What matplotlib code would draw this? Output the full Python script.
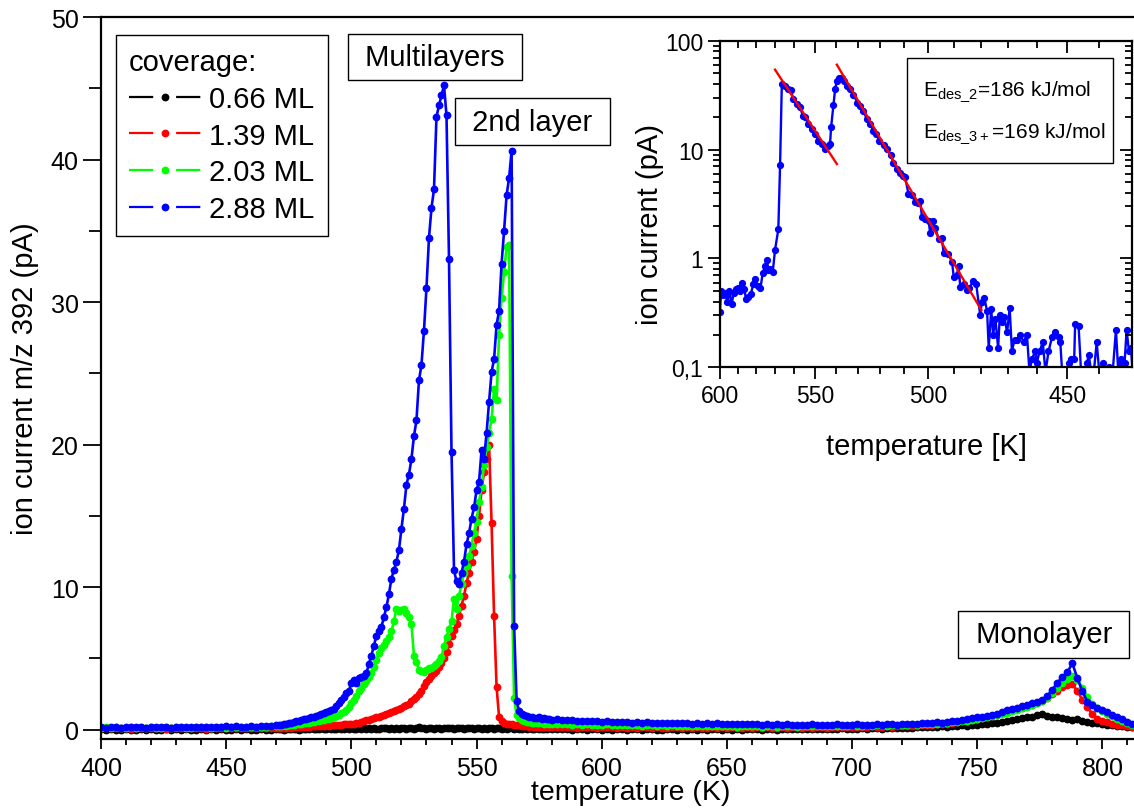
import numpy as np
import matplotlib.pyplot as plt
from matplotlib.lines import Line2D
from matplotlib.legend_handler import HandlerTuple
from matplotlib.patches import Rectangle
from matplotlib.ticker import MultipleLocator, NullFormatter

plt.rcParams['font.family'] = ['Liberation Sans', 'DejaVu Sans']
plt.rcParams['mathtext.default'] = 'regular'

# temperature ramp: 2 K steps on the flat parts, 1 K steps across the multilayer / 2nd layer peaks
temp = np.concatenate([np.arange(400, 471, 2), np.arange(471, 581, 1), np.arange(582, 813, 2)])

# ion current m/z 392 (pA) for each coverage
ion_066 = [
    .02, -.03, .05, .00, -.02, .04, -.04, .01, .06, -.01,
    .03, -.02, .00, .05, -.03, .02, -.01, .04, -.04, .01,
    .05, -.02, .02, -.03, .04, .00, -.01, .06, -.02, .03,
    .00, -.03, .04, .01, -.02, .05,
    .03, .06, .01, .05, .08, .02, .04, .07, .00, .05,
    .08, .03, .06, .10, .04, .07, .02, .09, .05, .06,
    .10, .04, .08, .05, .11, .06, .03, .09, .07, .12,
    .05, .08, .11, .06, .09, .04, .10, .07, .12, .08,
    .06, .11, .09, .13, .07, .10, .05, .12, .08, .11,
    .14, .07, .10, .13, .08, .11, .16, .09, .12, .07,
    .10, .14, .08, .12, .11, .06, .13, .09, .12, .10,
    .07, .12, .10, .14, .08, .11, .09, .13, .07, .10,
    .12, .08, .11, .06, .10, .13, .07, .09, .12, .08,
    .10, .06, .09, .12, .07, .10, .05, .08, .11, .06,
    .09, .04, .07, .10, .05, .08, .03, .06, .09, .04,
    .05, .02, .06, -.01, .03, .04, .00, .05, .02, -.02,
    .04, .01, .05, .02, -.01, .03, .06, .00, .02, .04,
    .01, -.02, .03, .05, .00, .02, -.01, .04, .01, .03,
    .00, .04, .02, -.01, .05, .01, .03, .00, .04, .02,
    .03, .01, .05, .02, .00, .04, .06, .02, .03, .05,
    .04, .07, .03, .05, .08, .04, .06, .09, .05, .08,
    .07, .10, .06, .09, .12, .08, .11, .14, .10, .13,
    .15, .12, .17, .20, .16, .22, .19, .25, .22, .28,
    .26, .31, .28, .35, .33, .40, .38, .45, .48, .55,
    .60, .66, .75, .85, .92, .88, 1.05, 1.12, .95, .88,
    .92, .80, .75, .68, .72, .60, .55, .48, .44, .38,
    .34, .30, .27, .24, .22, .20,
]

ion_139 = [
    .12, .10, .14, .09, .11, .13, .08, .12, .10, .14,
    .09, .12, .11, .08, .13, .10, .12, .09, .11, .13,
    .10, .08, .12, .11, .09, .13, .10, .12, .11, .09,
    .12, .10, .13, .11, .12, .14,
    .13, .12, .15, .14, .16, .15, .18, .17, .19, .20,
    .19, .22, .21, .24, .23, .26, .25, .28, .27, .30,
    .29, .31, .32, .34, .33, .36, .38, .37, .40, .41,
    .42, .46, .50, .55, .60, .65, .70, .75, .80, .86,
    .90, .98, 1.05, 1.12, 1.18, 1.24, 1.30, 1.36, 1.45, 1.55,
    1.65, 1.72, 1.83, 2.00, 2.15, 2.30, 2.50, 2.75, 3.05, 3.35,
    3.55, 3.80, 3.95, 4.10, 4.40, 4.70, 5.05, 5.46, 6.00, 6.60,
    7.00, 7.40, 8.00, 8.70, 9.40, 10.3, 11.0, 11.8, 12.5, 13.4,
    15.0, 16.8, 18.1, 19.0, 20.0, 14.5, 8.0, 3.0, .90, .60,
    .48, .42, .40, .38, .36, .34, .30, .28, .26, .25,
    .22, .24, .20, .21, .19, .22, .18, .20, .19, .17,
    .20, .16, .19, .22, .15, .18, .21, .17, .14, .19,
    .16, .20, .13, .18, .15, .21, .14, .17, .19, .13,
    .18, .15, .12, .17, .20, .14, .16, .13, .18, .15,
    .12, .17, .14, .19, .13, .16, .15, .12, .18, .14,
    .16, .13, .19, .15, .12, .17, .14, .18, .16, .13,
    .19, .15, .17, .21, .14, .18, .16, .20, .17, .22,
    .18, .21, .16, .24, .19, .22, .26, .20, .24, .27,
    .25, .29, .27, .32, .34, .31, .37, .40, .43, .48,
    .52, .58, .62, .68, .74, .82, .88, .96, 1.05, 1.15,
    1.25, 1.36, 1.45, 1.55, 1.65, 1.75, 1.88, 2.00, 2.20, 2.50,
    2.75, 3.00, 3.15, 3.20, 2.70, 2.10, 1.60, 1.10, .78, .62,
    .52, .42, .35, .30, .26, .22,
]

ion_203 = [
    .14, .16, .12, .17, .15, .13, .18, .14, .16, .12,
    .17, .15, .13, .18, .14, .16, .19, .15, .13, .17,
    .16, .18, .14, .19, .17, .15, .20, .18, .16, .21,
    .19, .17, .22, .20, .24, .26,
    .28, .26, .30, .29, .33, .32, .35, .37, .38, .42,
    .44, .47, .50, .52, .55, .58, .62, .65, .70, .74,
    .77, .82, .88, .95, 1.05, 1.15, 1.25, 1.36, 1.60, 1.85,
    2.10, 2.40, 2.70, 2.90, 3.20, 3.40, 3.70, 3.95, 4.40, 4.90,
    5.40, 5.70, 5.95, 6.20, 6.50, 6.90, 7.60, 8.50, 8.30, 8.40,
    8.45, 8.20, 7.90, 7.40, 5.20, 4.75, 4.20, 4.10, 4.05, 4.20,
    4.30, 4.35, 4.45, 4.60, 4.80, 5.10, 5.90, 6.50, 7.10, 7.60,
    9.20, 8.50, 9.40, 10.2, 11.0, 11.5, 12.2, 12.9, 13.8, 14.6,
    16.0, 17.0, 18.6, 19.8, 20.8, 21.8, 23.9, 23.1, 27.7, 30.3,
    32.1, 33.9, 34.0, 10.8, 2.2, 1.0, .80, .70, .60, .55,
    .52, .50, .48, .45, .47, .44, .42, .45, .40, .42,
    .40, .38, .42, .36, .39, .35, .38, .33, .36, .34,
    .37, .32, .35, .31, .34, .30, .33, .29, .32, .30,
    .28, .31, .27, .30, .26, .29, .25, .28, .27, .24,
    .28, .25, .27, .23, .26, .24, .22, .27, .25, .23,
    .26, .22, .25, .24, .21, .26, .23, .25, .22, .24,
    .27, .23, .25, .28, .24, .26, .29, .25, .27, .30,
    .26, .29, .31, .27, .30, .33, .29, .32, .35, .31,
    .34, .37, .33, .38, .40, .37, .42, .45, .48, .52,
    .56, .60, .64, .70, .76, .82, .88, .95, 1.02, 1.10,
    1.20, 1.30, 1.40, 1.50, 1.60, 1.72, 1.85, 2.00, 2.25, 2.60,
    2.95, 3.30, 3.55, 3.75, 3.50, 2.95, 2.30, 1.80, 1.50, 1.30,
    1.12, .95, .78, .62, .48, .36,
]

ion_288 = [
    .18, .15, .20, .17, .14, .19, .16, .21, .17, .15,
    .18, .20, .16, .19, .15, .18, .21, .17, .16, .19,
    .20, .17, .22, .18, .19, .23, .20, .24, .21, .22,
    .25, .22, .27, .24, .28, .30,
    .32, .35, .38, .42, .45, .50, .52, .58, .62, .68,
    .72, .78, .82, .88, .92, .98, 1.02, 1.10, 1.15, 1.25,
    1.30, 1.38, 1.45, 1.70, 1.90, 2.10, 2.30, 2.55, 2.70, 3.30,
    3.50, 3.30, 3.60, 3.70, 3.80, 3.95, 4.60, 5.20, 5.90, 6.60,
    6.90, 7.20, 7.90, 8.60, 9.50, 10.6, 11.2, 11.8, 12.6, 14.1,
    15.5, 17.2, 17.9, 19.0, 20.6, 21.7, 24.5, 25.6, 28.0, 31.0,
    34.5, 36.6, 37.9, 43.0, 43.8, 44.5, 45.2, 43.1, 33.0, 19.5,
    11.2, 10.4, 10.2, 11.0, 11.8, 13.0, 13.8, 14.8, 15.6, 16.8,
    17.4, 19.6, 19.0, 20.8, 23.0, 25.1, 26.0, 28.4, 29.4, 32.7,
    35.0, 37.5, 38.7, 40.6, 7.3, 2.0, 1.3, 1.1, 1.0, .95,
    .90, .92, .85, .82, .86, .78, .80, .74, .76, .70,
    .72, .68, .66, .70, .62, .64, .60, .63, .58, .56,
    .60, .55, .57, .52, .55, .50, .53, .49, .52, .48,
    .50, .46, .49, .45, .48, .44, .47, .43, .46, .42,
    .45, .41, .44, .40, .43, .39, .42, .38, .40, .37,
    .39, .36, .38, .35, .37, .34, .38, .33, .36, .35,
    .33, .37, .34, .36, .32, .35, .38, .33, .36, .34,
    .37, .33, .36, .35, .38, .34, .37, .40, .36, .39,
    .42, .38, .43, .46, .44, .49, .52, .50, .56, .60,
    .64, .70, .74, .80, .86, .92, .98, 1.05, 1.12, 1.25,
    1.36, 1.45, 1.55, 1.65, 1.72, 1.85, 1.98, 2.10, 2.40, 2.80,
    3.30, 3.70, 4.05, 4.65, 3.60, 2.70, 1.95, 1.75, 1.55, 1.40,
    1.25, 1.05, .88, .72, .55, .40,
]

coverages = ['0.66 ML', '1.39 ML', '2.03 ML', '2.88 ML']
colors = ['#000000', '#ff0000', '#00ff00', '#0000ff']

# 2.88 ML trace on log scale vs 1/T (inset)
inset_T = [
    600.0, 599.4, 598.1, 597.0, 595.8, 594.6, 593.4, 592.2, 591.0, 589.7,
    588.5, 587.4, 586.4, 585.3, 584.1, 582.8, 581.4, 580.3, 579.0, 577.6,
    576.4, 575.2, 574.3, 573.4, 572.3, 571.1, 569.9, 568.2, 567.3, 566.4,
    564.7, 563.0, 561.8, 560.5, 558.8, 557.2, 555.8, 554.7, 553.1, 551.5,
    549.8, 548.2, 546.6, 545.0, 543.8, 542.7, 542.2, 541.1, 540.3, 539.5,
    538.4, 537.1, 536.0, 534.9, 533.4, 531.9, 530.1, 528.9, 527.4, 525.9,
    524.4, 523.0, 521.8, 520.4, 518.6, 517.2, 515.5, 514.4, 512.9, 511.6,
    510.5, 509.5, 508.1, 506.7, 505.3, 504.0, 503.3, 502.6, 501.3, 499.9,
    499.3, 498.2, 497.3, 495.9, 494.7, 494.0, 492.1, 490.7, 490.1, 488.9,
    488.2, 487.6, 486.3, 485.1, 484.1, 482.8, 481.6, 480.1, 479.5, 478.6,
    477.6, 477.0, 476.1, 475.4, 474.6, 473.6, 473.0, 472.2, 471.4, 470.4,
    469.5, 468.7, 467.8, 466.9, 465.8, 464.6, 463.5, 462.6, 461.8, 460.6,
    460.1, 459.2, 458.1, 457.2, 456.2, 455.0, 454.0, 452.8, 452.3, 451.7,
    450.6, 449.5, 448.8, 447.8, 447.5, 446.4, 445.6, 444.7, 443.7, 443.2,
    442.4, 441.6, 440.7, 439.9, 438.9, 437.8, 436.8, 435.8, 434.8, 434.1,
    433.4, 432.9, 432.2, 431.6, 430.9, 430.3, 429.8,
]
inset_I = [
    .32, .50, .46, .48, .40, .50, .38, .48, .52, .53,
    .50, .60, .52, .42, .44, .47, .58, .65, .56, .53,
    .73, .85, .97, .78, .80, .75, 1.2, 1.85, 7.2, 40.0,
    38.0, 36.0, 35.0, 29.0, 26.0, 24.5, 20.5, 19.8, 17.2, 15.4,
    13.9, 12.1, 11.2, 10.1, 10.8, 11.2, 16.0, 25.5, 36.0, 43.0,
    45.0, 45.0, 43.0, 38.6, 36.0, 32.0, 27.0, 25.0, 22.7, 19.0,
    17.2, 14.9, 13.9, 12.1, 11.0, 10.1, 8.9, 7.6, 6.6, 6.1,
    5.7, 5.6, 3.9, 3.8, 3.3, 3.2, 3.4, 2.4, 2.3, 2.2,
    1.7, 2.2, 1.9, 1.5, 1.55, 1.13, 1.09, .92, .68, .70,
    .85, .55, .58, .51, .53, .62, .58, .30, .40, .43,
    .33, .15, .34, .20, .28, .15, .30, .26, .29, .21,
    .35, .14, .18, .18, .20, .17, .20, .09, .12, .14,
    .11, .14, .17, .09, .14, .19, .21, .19, .17, .09,
    .08, .11, .12, .12, .25, .24, .09, .09, .11, .13,
    .09, .09, .17, .09, .11, .09, .10, .09, .22, .09,
    .12, .09, .11, .22, .14, .15, .09,
]

# Arrhenius fits of the leading edges (endpoints of the fitted lines)
fit3_T = [569.9, 539.5]
fit3_I = [54.2, 7.37]
fit2_T = [539.5, 479.7]
fit2_I = [60.2, 0.336]

W, H = 1134, 812
fig = plt.figure(figsize=(W / 100, H / 100), dpi=100)
ax = fig.add_axes([101 / W, 1 - 740 / H, (W - 101) / W, (740 - 18) / H])

for y, c in zip([ion_066, ion_139, ion_203, ion_288], colors):
    ax.plot(temp, y, color=c, lw=1.9, marker='o', ms=4.6, mec=c, mfc=c)

ax.set_xlim(400, 812.6)
ax.set_ylim(-0.65, 50)
ax.xaxis.set_major_locator(MultipleLocator(50))
ax.xaxis.set_minor_locator(MultipleLocator(10))
ax.yaxis.set_major_locator(MultipleLocator(10))
ax.yaxis.set_minor_locator(MultipleLocator(5))
ax.tick_params(which='both', direction='out', width=1.3, labelsize=18, top=False, right=False)
ax.tick_params(axis='x', which='major', length=7, pad=5)
ax.tick_params(axis='x', which='minor', length=4)
ax.tick_params(axis='y', which='major', length=13, pad=3)
ax.tick_params(axis='y', which='minor', length=9)
ax.spines['right'].set_visible(False)
for s in ['left', 'bottom', 'top']:
    ax.spines[s].set_linewidth(1.6)
ax.set_xlabel('temperature (K)', fontsize=20.5)
ax.set_ylabel('ion current m/z 392 (pA)', fontsize=21)
ax.xaxis.set_label_coords(0.513, -0.0555)
ax.yaxis.set_label_coords(-0.06, 0.5)

# legend: line - dot - line handles
handles = []
for c in colors:
    seg = Line2D([], [], color=c, lw=1.6, linestyle=(0, (10.9, 10.3)))
    dot = Line2D([], [], color=c, marker='o', ms=4.6, ls='none')
    handles.append((seg, dot))
leg = ax.legend(handles, coverages, handler_map={tuple: HandlerTuple(ndivide=1)},
                title='coverage:', fontsize=21, title_fontsize=21, alignment='left',
                loc='upper left', bbox_to_anchor=(0.0145, 0.975), borderaxespad=0,
                fancybox=False, edgecolor='black', framealpha=1, handlelength=2.45,
                handletextpad=0.3, labelspacing=0.3, borderpad=0.45)
leg.get_frame().set_linewidth(1.0)

box = dict(boxstyle='square,pad=0.32', fc='white', ec='black', lw=1.0)
ax.text(533.3, 47.2, ' Multilayers ', fontsize=21, ha='center', va='center', bbox=box)
ax.text(572.4, 42.65, ' 2nd layer ', fontsize=21, ha='center', va='center', bbox=box)
ax.text(776.6, 6.7, ' Monolayer ', fontsize=21, ha='center', va='center', bbox=box)

# inset: log current vs reciprocal temperature
rect = [720 / W, 1 - 368.3 / H, 412 / W, 326.6 / H]
axi = fig.add_axes(rect)
axi.set_xscale('function', functions=(lambda t: 1000.0 / t, lambda u: 1000.0 / u))
axi.set_yscale('log')
axi.plot(inset_T, inset_I, color='#0000ff', lw=1.7, marker='o', ms=4.2, zorder=2)
axi.plot(fit3_T, fit3_I, color='#ff0000', lw=1.7, zorder=3)
axi.plot(fit2_T, fit2_I, color='#ff0000', lw=1.7, zorder=3)
axi.set_xlim(430, 600)
axi.set_ylim(0.1, 100)
axi.set_xticks([600, 550, 500, 450], labels=['600', '550', '500', '450'])
axi.set_xticks([t for t in range(440, 600, 10) if t % 50], minor=True)
axi.set_yticks([0.1, 1, 10, 100], labels=['0,1', '1', '10', '100'])
axi.yaxis.set_minor_formatter(NullFormatter())
axi.xaxis.set_minor_formatter(NullFormatter())
axi.tick_params(which='both', direction='out', width=1.3, labelsize=16.5)
axi.tick_params(which='major', length=8.5)
axi.tick_params(which='minor', length=5)
for s in axi.spines.values():
    s.set_linewidth(1.6)
axi.set_xlabel('temperature [K]', fontsize=21)
axi.set_ylabel('ion current (pA)', fontsize=21)
axi.xaxis.set_label_coords(0.5, -0.198)
axi.yaxis.set_label_coords(-0.136, 0.44)

# mirrored top/right ticks pointing inward
axm = fig.add_axes(rect, sharex=axi, sharey=axi, frameon=False)
axm.patch.set_visible(False)
axm.tick_params(which='both', direction='in', width=1.3, left=False, bottom=False,
                top=True, right=True, labelleft=False, labelbottom=False)
axm.tick_params(which='major', length=8.5)
axm.tick_params(which='minor', length=5)

axi.add_patch(Rectangle((0.454, 0.6255), 0.5, 0.3215, transform=axi.transAxes,
                        fill=False, ec='black', lw=1.0, zorder=5))
axi.text(0.493, 0.846, 'E$_{des\\_2}$=186 kJ/mol', transform=axi.transAxes,
         fontsize=15, va='center', ha='left')
axi.text(0.493, 0.72, 'E$_{des\\_3+}$=169 kJ/mol', transform=axi.transAxes,
         fontsize=15, va='center', ha='left')

fig.savefig('out.png', dpi=100)
